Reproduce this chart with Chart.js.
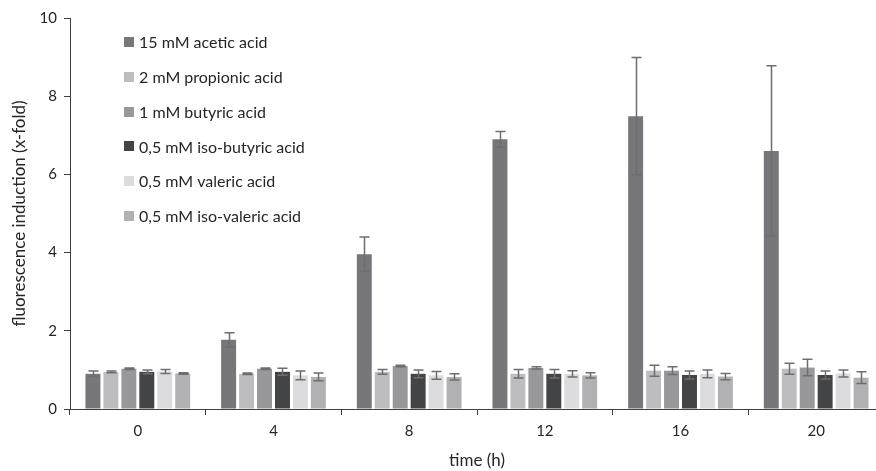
<!DOCTYPE html>
<html>
<head>
<meta charset="utf-8">
<script src="https://cdn.jsdelivr.net/npm/chart.js@4.4.1/dist/chart.umd.min.js"></script>
<style>
  html, body { margin: 0; padding: 0; background: #ffffff; overflow: hidden; }
  #wrap { position: absolute; left: 0; top: 0; width: 890px; height: 471px; }
</style>
</head>
<body>
<div id="wrap"><canvas id="c"></canvas></div>
<script>
const categories = ['0', '4', '8', '12', '16', '20'];
const seriesNames = ['15 mM acetic acid', '2 mM propionic acid', '1 mM butyric acid',
  '0,5 mM iso-butyric acid', '0,5 mM valeric acid', '0,5 mM iso-valeric acid'];
const acetic      = [0.90, 1.77, 3.96, 6.90, 7.49, 6.60];
const aceticErr   = [0.07, 0.18, 0.44, 0.20, 1.50, 2.18];
const propionic   = [0.95, 0.90, 0.95, 0.90, 0.98, 1.03];
const propionicErr= [0.02, 0.02, 0.06, 0.11, 0.14, 0.14];
const butyric     = [1.03, 1.03, 1.10, 1.05, 0.98, 1.06];
const butyricErr  = [0.02, 0.02, 0.02, 0.03, 0.10, 0.21];
const isoButyric  = [0.95, 0.95, 0.90, 0.90, 0.87, 0.87];
const isoButyricErr=[0.05, 0.09, 0.10, 0.11, 0.10, 0.10];
const valeric     = [0.96, 0.86, 0.86, 0.90, 0.90, 0.91];
const valericErr  = [0.05, 0.11, 0.10, 0.08, 0.10, 0.09];
const isoValeric  = [0.91, 0.82, 0.82, 0.86, 0.83, 0.80];
const isoValericErr=[0.02, 0.10, 0.08, 0.07, 0.08, 0.15];
const yTicks = [0, 2, 4, 6, 8, 10];

const colors = ['#77777b', '#bdbdbf', '#98989a', '#434446', '#dcdcde', '#b1b1b3'];
const values = [acetic, propionic, butyric, isoButyric, valeric, isoValeric];
const errors = [aceticErr, propionicErr, butyricErr, isoButyricErr, valericErr, isoValericErr];

const FONT = 'Lato, "Open Sans", sans-serif';
const TEXT = '#262626';

const errorBars = {
  id: 'errorBars',
  afterDatasetsDraw(chart) {
    const ctx = chart.ctx;
    const y = chart.scales.y;
    ctx.save();
    ctx.strokeStyle = '#6e6e70';
    ctx.lineWidth = 1.5;
    chart.data.datasets.forEach((ds, i) => {
      const meta = chart.getDatasetMeta(i);
      meta.data.forEach((bar, j) => {
        const v = ds.data[j], e = ds.errors[j];
        const x = Math.round(bar.x) + 0.5;
        const yt = y.getPixelForValue(v + e);
        const yb = y.getPixelForValue(v - e);
        ctx.beginPath();
        ctx.moveTo(x, yt); ctx.lineTo(x, yb);
        ctx.moveTo(x - 5, yt); ctx.lineTo(x + 5, yt);
        ctx.moveTo(x - 5, yb); ctx.lineTo(x + 5, yb);
        ctx.stroke();
      });
    });
    ctx.restore();
  }
};

const insideLegend = {
  id: 'insideLegend',
  afterDraw(chart) {
    const ctx = chart.ctx;
    ctx.save();
    ctx.font = '16px ' + FONT;
    ctx.textBaseline = 'middle';
    ctx.textAlign = 'left';
    chart.data.datasets.forEach((ds, i) => {
      const cy = 42 + i * 34.8;
      ctx.fillStyle = ds.backgroundColor;
      ctx.fillRect(124, Math.round(cy - 5), 10, 10);
      ctx.fillStyle = TEXT;
      ctx.fillText(ds.label, 139, cy + 1);
    });
    ctx.restore();
  }
};

const datasets = seriesNames.map((name, i) => ({
  label: name,
  data: values[i],
  errors: errors[i],
  backgroundColor: colors[i],
  borderWidth: 0,
  categoryPercentage: 0.794,
  barPercentage: 0.833
}));

new Chart(document.getElementById('c'), {
  type: 'bar',
  data: { labels: categories, datasets },
  plugins: [errorBars, insideLegend],
  options: {
    responsive: true,
    maintainAspectRatio: false,
    animation: false,
    layout: { padding: { top: 18, right: 6, bottom: 0, left: 0 } },
    plugins: { legend: { display: false }, tooltip: { enabled: false } },
    scales: {
      x: {
        afterFit(s) { s.height = 62; },
        grid: { offset: true, drawOnChartArea: false, drawTicks: true, tickLength: 6, color: '#404040', lineWidth: 1 },
        border: { display: true, color: '#404040', width: 1 },
        ticks: { color: TEXT, font: { family: FONT, size: 15 }, padding: 7 },
        title: { display: true, text: 'time (h)', color: TEXT, font: { family: FONT, size: 17 }, padding: { top: 2, bottom: 0 } }
      },
      y: {
        min: 0, max: 10,
        afterFit(s) { s.width = 70; },
        afterBuildTicks(s) { s.ticks = yTicks.map(v => ({ value: v })); },
        grid: { drawOnChartArea: false, drawTicks: true, tickLength: 6, color: '#404040', lineWidth: 1 },
        border: { display: true, color: '#404040', width: 1 },
        ticks: { color: TEXT, font: { family: FONT, size: 15 }, padding: 7 },
        title: { display: true, text: 'fluorescence induction (x-fold)', color: TEXT, font: { family: FONT, size: 17 }, padding: { top: 9, bottom: 4 } }
      }
    }
  }
});
</script>
</body>
</html>
